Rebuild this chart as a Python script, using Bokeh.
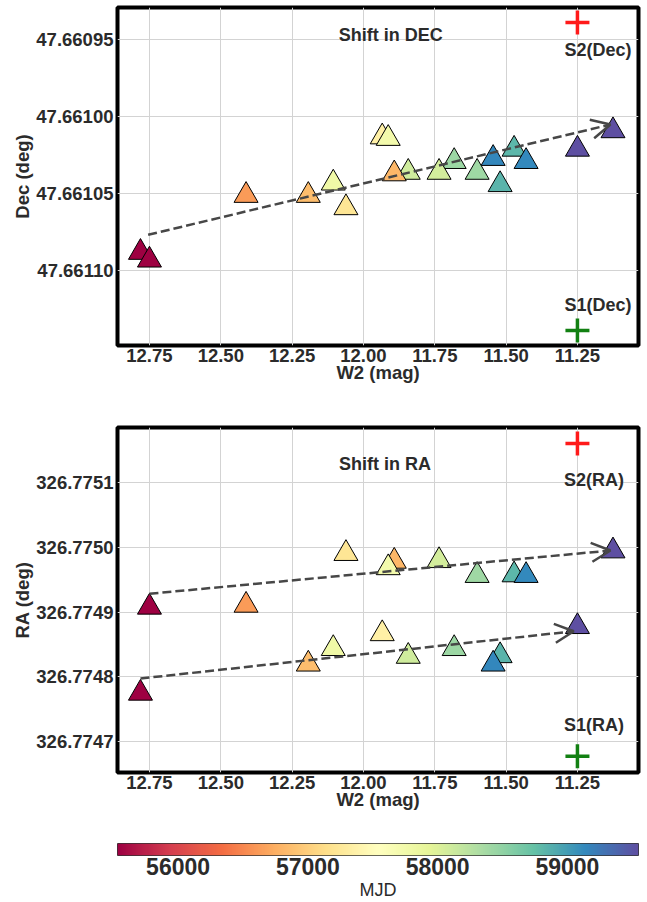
import numpy as np
from bokeh.plotting import figure
from bokeh.layouts import column
from bokeh.models import (Range1d, FixedTicker, PrintfTickFormatter, LinearColorMapper,
                          ColumnDataSource, Arrow, OpenHead)
from bokeh.transform import dodge
from bokeh.core.properties import value
from bokeh.embed import file_html
from bokeh.resources import INLINE

# ---------------- data ----------------
# Source S1
s1_mjd = [55533, 56858, 57340, 57780, 58100, 58430, 58830, 59150, 59548]
s1_w2 = [12.7815, 12.1933, 11.9342, 12.1058, 11.843, 11.682, 11.521, 11.5455, 11.25]
s1_dec = [47.661086, 47.661049, 47.661011, 47.661041, 47.661034, 47.661027, 47.661042, 47.661025, 47.661019]
s1_ra = [326.774780, 326.774825, 326.774872, 326.774849, 326.774837, 326.774849, 326.774838, 326.774825, 326.774883]

# Source S2
s2_mjd = [55545, 56617, 56818, 57220, 57740, 58060, 58410, 58820, 59140, 59540]
s2_w2 = [12.75, 12.4114, 11.892, 12.0613, 11.9132, 11.735, 11.6016, 11.472, 11.43, 11.1254]
s2_dec = [47.661091, 47.661049, 47.661035, 47.661057, 47.661012, 47.661034, 47.661034, 47.661019, 47.661027, 47.661007]
s2_ra = [326.774913, 326.774916, 326.774984, 326.774996, 326.774974, 326.774985, 326.774962, 326.774963, 326.774962, 326.775000]

# trend arrows (start w2, start coord, end w2, end coord)
dec_arrow = [12.7546, 47.6610768, 11.1343, 47.6610052]
ra_arrow_s2 = [12.75, 326.7749284, 11.1343, 326.7749953]
ra_arrow_s1 = [12.7815, 326.7747974, 11.2630, 326.7748705]

# reference markers
ref_w2 = [11.25, 11.25]
ref_dec = [47.6609390, 47.6611390]   # S2, S1
ref_ra = [326.7751608, 326.7746773]  # S2, S1
ref_colors = ["#ff1a1a", "#128012"]

# annotations
dec_text = ["Shift in DEC", "S2(Dec)", "S1(Dec)"]
dec_text_w2 = [11.9044, 11.1782, 11.1782]
dec_text_y = [47.6609471, 47.6609571, 47.6611227]
ra_text = ["Shift in RA", "S2(RA)", "S1(RA)"]
ra_text_w2 = [11.9246, 11.1921, 11.1921]
ra_text_y = [326.7751291, 326.7751051, 326.7747263]

x_ticks = [12.75, 12.5, 12.25, 12.0, 11.75, 11.5, 11.25]
dec_ticks = [47.66095, 47.66100, 47.66105, 47.66110]
ra_ticks = [326.7747, 326.7748, 326.7749, 326.7750, 326.7751]
mjd_ticks = [56000, 57000, 58000, 59000]

# ---------------- colormap (Spectral) ----------------
stops = ["#9e0142", "#d53e4f", "#f46d43", "#fdae61", "#fee08b", "#ffffbf",
         "#e6f598", "#abdda4", "#66c2a5", "#3288bd", "#5e4fa2"]
rgb = np.array([[int(c[i:i + 2], 16) for i in (1, 3, 5)] for c in stops], dtype=float)
pos = np.linspace(0, 1, len(stops))
tt = np.linspace(0, 1, 256)
pal = []
for t in tt:
    r = np.interp(t, pos, rgb[:, 0]); g = np.interp(t, pos, rgb[:, 1]); b = np.interp(t, pos, rgb[:, 2])
    pal.append("#%02x%02x%02x" % (int(round(r)), int(round(g)), int(round(b))))
all_mjd = s1_mjd + s2_mjd
mlow, mhigh = min(all_mjd), max(all_mjd)
mapper = LinearColorMapper(palette=pal, low=mlow, high=mhigh)

FONT = "Liberation Sans"
TXT = "#2b2b2b"
LEFT, FW, RIGHT = 117, 521, 9


def style_axes(p, y_fmt, y_ticks, y_label):
    p.outline_line_color = "black"
    p.outline_line_width = 4
    p.xaxis.ticker = FixedTicker(ticks=x_ticks)
    p.yaxis.ticker = FixedTicker(ticks=y_ticks)
    p.xaxis.formatter = PrintfTickFormatter(format="%.2f")
    p.yaxis.formatter = PrintfTickFormatter(format=y_fmt)
    p.xaxis.axis_label = "W2 (mag)"
    p.yaxis.axis_label = y_label
    for ax in (p.xaxis[0], p.yaxis[0]):
        ax.axis_line_color = None
        ax.major_tick_line_color = None
        ax.minor_tick_line_color = None
        ax.major_tick_out = 0
        ax.major_tick_in = 0
        ax.major_label_text_font = FONT
        ax.major_label_text_font_style = "bold"
        ax.major_label_text_font_size = "18.5px"
        ax.major_label_text_color = TXT
        ax.axis_label_text_font = FONT
        ax.axis_label_text_font_style = "bold"
        ax.axis_label_text_font_size = "18.5px"
        ax.axis_label_text_color = TXT
    p.xaxis.major_label_standoff = 3
    p.xaxis.axis_label_standoff = -3
    p.yaxis.major_label_standoff = 4
    p.yaxis.axis_label_standoff = 0
    p.xgrid.grid_line_color = "#d3d3d3"
    p.ygrid.grid_line_color = "#d3d3d3"
    p.xgrid.grid_line_width = 1
    p.ygrid.grid_line_width = 1


def add_series(p, ycol, y_span, frame_h, sign):
    # shift so the triangle's bounding box is centred on the data point
    dy = sign * 3.46 * y_span / frame_h
    for w2, yv, mjd in ((s1_w2, ycol[0], s1_mjd), (s2_w2, ycol[1], s2_mjd)):
        src = ColumnDataSource(dict(w2=w2, y=yv, mjd=mjd))
        p.scatter(x="w2", y=dodge("y", dy, range=p.y_range), source=src, marker="triangle",
                  size=24, fill_color={"field": "mjd", "transform": mapper},
                  line_color="black", line_width=1)


def add_arrow(p, a):
    p.add_layout(Arrow(end=OpenHead(size=19, line_color="#474747", line_width=2.5),
                       x_start=a[0], y_start=a[1], x_end=a[2], y_end=a[3],
                       line_color="#474747", line_width=2.5, line_dash="9 4"))


# ---------------- top: Dec ----------------
dec_lo, dec_hi = 47.6609292, 47.6611487
p1 = figure(output_backend="svg", toolbar_location=None,
            x_range=Range1d(12.862, 11.036), y_range=Range1d(dec_hi, dec_lo),
            frame_width=FW, frame_height=338,
            min_border_left=LEFT, min_border_right=RIGHT, min_border_top=7, min_border_bottom=63,
            background_fill_color="white", border_fill_color="white")
style_axes(p1, "%.5f", dec_ticks, "Dec (deg)")
add_series(p1, (s1_dec, s2_dec), dec_hi - dec_lo, 338, +1)
add_arrow(p1, dec_arrow)
p1.scatter(x=ref_w2, y=ref_dec, marker="cross", size=24, line_width=3.5, line_color=ref_colors)
p1.text(x=dec_text_w2, y=dec_text_y, text=dec_text, text_font=value(FONT), text_font_style="bold",
        text_font_size="18px", text_align="center", text_baseline="middle", text_color=TXT)

# ---------------- bottom: RA ----------------
ra_lo, ra_hi = 326.7746521, 326.7751855
p2 = figure(output_backend="svg", toolbar_location=None,
            x_range=Range1d(12.862, 11.036), y_range=Range1d(ra_lo, ra_hi),
            frame_width=FW, frame_height=345,
            min_border_left=LEFT, min_border_right=RIGHT, min_border_top=19, min_border_bottom=42,
            background_fill_color="white", border_fill_color="white")
style_axes(p2, "%.4f", ra_ticks, "RA (deg)")
add_series(p2, (s1_ra, s2_ra), ra_hi - ra_lo, 345, -1)
add_arrow(p2, ra_arrow_s2)
add_arrow(p2, ra_arrow_s1)
p2.scatter(x=ref_w2, y=ref_ra, marker="cross", size=24, line_width=3.5, line_color=ref_colors)
p2.text(x=ra_text_w2, y=ra_text_y, text=ra_text, text_font=value(FONT), text_font_style="bold",
        text_font_size="18px", text_align="center", text_baseline="middle", text_color=TXT)

# ---------------- colour bar ----------------
p3 = figure(output_backend="svg", toolbar_location=None,
            x_range=Range1d(mlow, mhigh), y_range=Range1d(0, 1),
            frame_width=FW, frame_height=12,
            min_border_left=LEFT, min_border_right=RIGHT, min_border_top=29, min_border_bottom=45,
            background_fill_color="white", border_fill_color="white")
grad = np.linspace(mlow, mhigh, 512).reshape(1, -1)
p3.image(image=[grad], x=mlow, y=0, dw=mhigh - mlow, dh=1, color_mapper=mapper)
p3.outline_line_color = "#333333"
p3.outline_line_width = 1
p3.yaxis.visible = False
p3.xgrid.visible = False
p3.ygrid.visible = False
ax = p3.xaxis[0]
ax.ticker = FixedTicker(ticks=mjd_ticks)
ax.formatter = PrintfTickFormatter(format="%d")
ax.axis_line_color = None
ax.major_tick_line_color = None
ax.minor_tick_line_color = None
ax.major_tick_out = 0
ax.major_tick_in = 0
ax.major_label_standoff = 2
ax.major_label_text_font = FONT
ax.major_label_text_font_style = "bold"
ax.major_label_text_font_size = "23px"
ax.major_label_text_color = TXT
ax.axis_label = "MJD"
ax.axis_label_standoff = 2
ax.axis_label_text_font = FONT
ax.axis_label_text_font_style = "normal"
ax.axis_label_text_font_size = "18px"
ax.axis_label_text_color = TXT

layout = column(p1, p2, p3, spacing=0)
open("out.html", "w").write(file_html(layout, INLINE))
